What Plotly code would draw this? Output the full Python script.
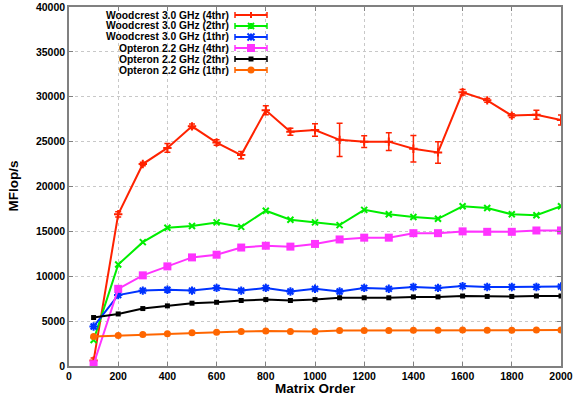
import plotly.graph_objects as go

# Matrix order sweep
order = [100, 200, 300, 400, 500, 600, 700, 800, 900, 1000,
         1100, 1200, 1300, 1400, 1500, 1600, 1700, 1800, 1900, 2000]

# Measured throughput (MFlop/s)
wc_4thr = [600, 16900, 22500, 24300, 26700, 24900, 23500, 28500, 26100, 26300,
           25200, 25000, 25000, 24200, 23800, 30500, 29600, 27900, 28000, 27400]
wc_4thr_err = [300, 300, 200, 480, 250, 300, 400, 500, 400, 700,
               1850, 650, 1000, 1480, 1200, 300, 200, 200, 500, 560]
wc_2thr = [2900, 11300, 13800, 15400, 15600, 16000, 15500, 17300, 16300, 16000,
           15700, 17400, 16900, 16600, 16400, 17800, 17600, 16900, 16800, 17800]
wc_1thr = [4400, 7900, 8400, 8500, 8400, 8700, 8400, 8700, 8300, 8600,
           8300, 8700, 8600, 8800, 8700, 8900, 8800, 8800, 8800, 8850]
op_4thr = [200, 8600, 10100, 11100, 12100, 12400, 13200, 13400, 13300, 13600,
           14100, 14300, 14300, 14800, 14800, 15000, 14950, 14950, 15100, 15100]
op_2thr = [5400, 5800, 6400, 6700, 7000, 7100, 7300, 7400, 7300, 7400,
           7600, 7600, 7600, 7700, 7700, 7800, 7750, 7750, 7800, 7800]
op_1thr = [3300, 3400, 3500, 3600, 3700, 3750, 3850, 3900, 3850, 3850,
           3950, 3950, 3950, 3970, 3970, 4000, 3970, 3990, 4000, 4000]

series_names = ["Woodcrest 3.0 GHz (4thr)", "Woodcrest 3.0 GHz (2thr)",
                "Woodcrest 3.0 GHz (1thr)", "Opteron 2.2 GHz (4thr)",
                "Opteron 2.2 GHz (2thr)", "Opteron 2.2 GHz (1thr)"]

FONT = "Liberation Sans, Arial, Helvetica, sans-serif"
W, H = 574, 402
L, R, T, B = 69, 561, 7, 366  # plot box in pixels

styles = [
    dict(color="#ff2200", symbol="cross-thin", size=6),
    dict(color="#00ee00", symbol="x-thin", size=6),
    dict(color="#0033ff", symbol="asterisk", size=7),
    dict(color="#ff33ff", symbol="square", size=8),
    dict(color="#000000", symbol="square", size=5),
    dict(color="#ff6600", symbol="circle", size=7),
]
values = [wc_4thr, wc_2thr, wc_1thr, op_4thr, op_2thr, op_1thr]

fig = go.Figure()
for name, ys, st in zip(series_names, values, styles):
    thin = st["symbol"].endswith("thin") or st["symbol"] == "asterisk"
    marker = dict(symbol=st["symbol"], size=st["size"], color=st["color"],
                  line=dict(color=st["color"], width=2 if thin else 0))
    kw = {}
    if ys is wc_4thr:
        kw["error_y"] = dict(type="data", array=wc_4thr_err, visible=True,
                             color=st["color"], thickness=1.5, width=3)
    fig.add_trace(go.Scatter(x=order, y=ys, name=name, mode="lines+markers",
                             line=dict(color=st["color"], width=2),
                             marker=marker, showlegend=False, **kw))


def px_x(p):
    return (p - L) / (R - L)


def px_y(p):
    return (B - p) / (B - T)


# Key block: right-aligned labels followed by a line sample
shapes = []
annotations = []
for i, (name, st) in enumerate(zip(series_names, styles)):
    yy = 15 + i * 11
    annotations.append(dict(x=px_x(230), y=px_y(yy), xref="paper", yref="paper",
                            text=name, showarrow=False, xanchor="right",
                            yanchor="middle", borderpad=0,
                            font=dict(family=FONT, size=10.3, color="#000",
                                      weight="bold")))
    c = st["color"]
    x0, x1, xm = px_x(235), px_x(267), px_x(251)
    shapes.append(dict(type="line", xref="paper", yref="paper",
                       x0=x0, x1=x1, y0=px_y(yy), y1=px_y(yy),
                       line=dict(color=c, width=2)))
    for xe in (235, 267):
        shapes.append(dict(type="line", xref="paper", yref="paper",
                           x0=px_x(xe), x1=px_x(xe),
                           y0=px_y(yy - 3), y1=px_y(yy + 3),
                           line=dict(color=c, width=1.5)))
    s = st["size"] / 2
    if st["symbol"] == "circle":
        shapes.append(dict(type="circle", xref="paper", yref="paper",
                           x0=px_x(251 - s), x1=px_x(251 + s),
                           y0=px_y(yy - s), y1=px_y(yy + s),
                           fillcolor=c, line=dict(width=0)))
    elif st["symbol"] == "square":
        shapes.append(dict(type="rect", xref="paper", yref="paper",
                           x0=px_x(251 - s), x1=px_x(251 + s),
                           y0=px_y(yy - s), y1=px_y(yy + s),
                           fillcolor=c, line=dict(width=0)))
    else:
        shapes.append(dict(type="line", xref="paper", yref="paper",
                           x0=xm, x1=xm, y0=px_y(yy - s), y1=px_y(yy + s),
                           line=dict(color=c, width=2)))
        if st["symbol"] != "cross-thin":
            shapes.append(dict(type="line", xref="paper", yref="paper",
                               x0=px_x(251 - s), x1=px_x(251 + s),
                               y0=px_y(yy - s), y1=px_y(yy + s),
                               line=dict(color=c, width=2)))
            shapes.append(dict(type="line", xref="paper", yref="paper",
                               x0=px_x(251 - s), x1=px_x(251 + s),
                               y0=px_y(yy + s), y1=px_y(yy - s),
                               line=dict(color=c, width=2)))

# Axis titles
annotations.append(dict(x=0.5, y=px_y(388), xref="paper", yref="paper",
                        text="Matrix Order", showarrow=False,
                        xanchor="center", yanchor="middle",
                        font=dict(family=FONT, size=13.5, color="#000",
                                  weight="bold")))
annotations.append(dict(x=px_x(13), y=0.5, xref="paper", yref="paper",
                        text="MFlop/s", showarrow=False, textangle=-90,
                        xanchor="center", yanchor="middle",
                        font=dict(family=FONT, size=13.5, color="#000",
                                  weight="bold")))

axis_common = dict(
    showline=True, linecolor="#808080", linewidth=1.5, mirror="allticks",
    ticks="inside", ticklen=4, tickcolor="#808080", tickwidth=1,
    showgrid=True, gridcolor="#c8c8c8", griddash="dot", gridwidth=1,
    zeroline=False, tickformat="d",
    tickfont=dict(family=FONT, size=10.5, color="#000", weight="bold"),
)

fig.update_layout(
    width=W, height=H,
    margin=dict(l=L, r=W - R, t=T, b=H - B, autoexpand=False),
    plot_bgcolor="white", paper_bgcolor="white",
    xaxis=dict(range=[0, 2000], dtick=200, tick0=0, **axis_common),
    yaxis=dict(range=[0, 40000], dtick=5000, tick0=0, **axis_common),
    shapes=shapes, annotations=annotations,
    showlegend=False,
)

fig.write_html("out.html")
